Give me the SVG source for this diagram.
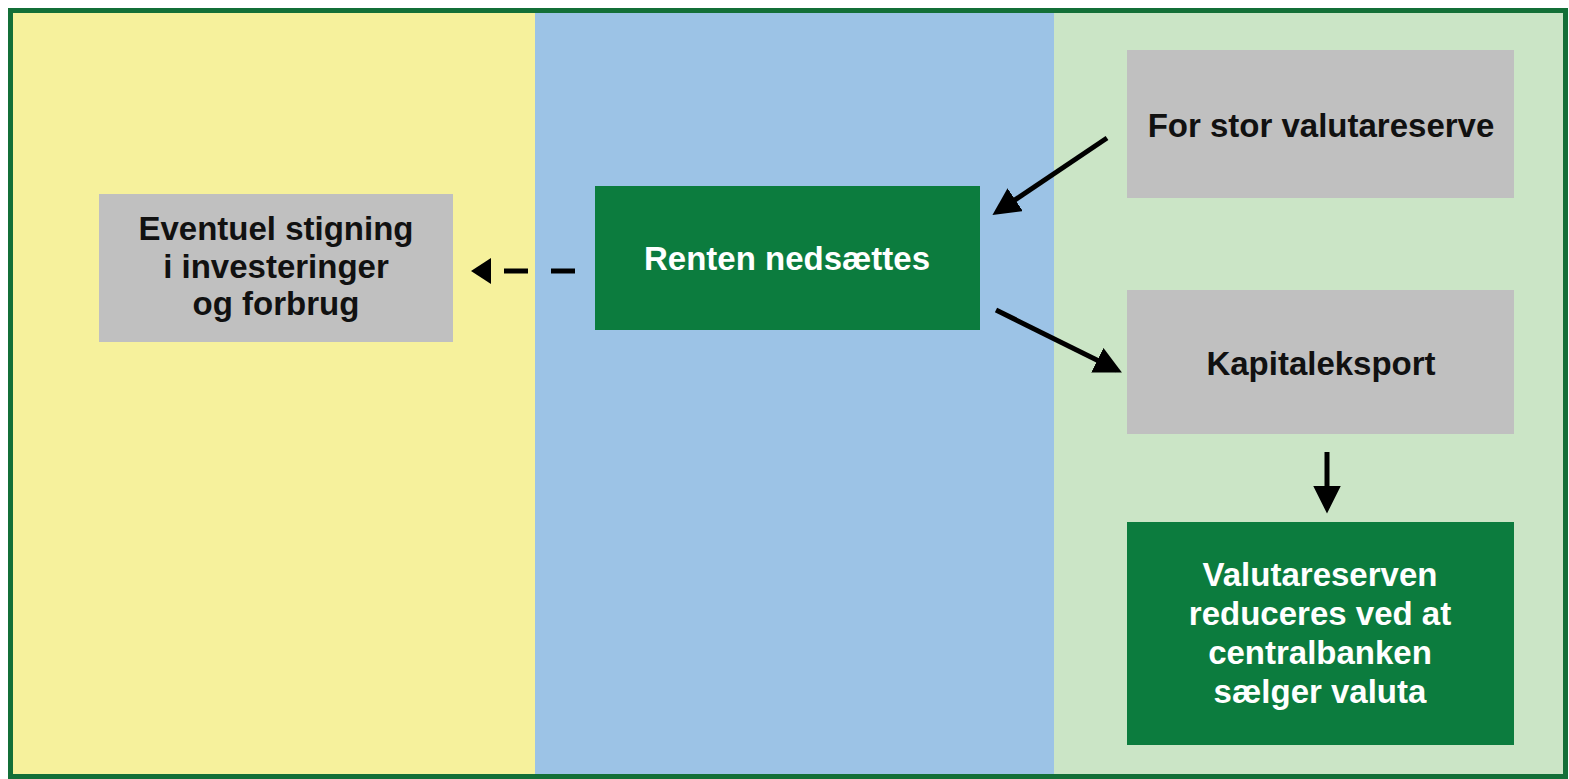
<svg xmlns="http://www.w3.org/2000/svg" width="1569" height="779" viewBox="0 0 1569 779">
<defs>
<style>
.t{font-family:"Liberation Sans",Arial,sans-serif;font-weight:bold;font-size:33px;text-anchor:middle}
.dk{fill:#111}
.wt{fill:#fff}
.gray{fill:#c0c0c0}
.grn{fill:#0c7c3e}
.ar{stroke:#000;stroke-width:5;fill:none}
</style>
<marker id="ah" viewBox="0 0 10 10" refX="8" refY="5" markerWidth="5.5" markerHeight="5.5" markerUnits="strokeWidth" orient="auto">
<path d="M0,0 L10,5 L0,10 z" fill="#000"/>
</marker>
</defs>
<rect x="0" y="0" width="1569" height="779" fill="#ffffff"/>
<g id="panels">
<rect x="11" y="11" width="524" height="765" fill="#f6f19c"/>
<rect x="535" y="11" width="519" height="765" fill="#9cc3e6"/>
<rect x="1054" y="11" width="512" height="765" fill="#cbe5c6"/>
<rect x="10.5" y="10.5" width="1555" height="766" fill="none" stroke="#136f37" stroke-width="5"/>
</g>
<g id="n-eventuel">
<rect class="gray" x="99" y="194" width="354" height="148"/>
<text class="t dk" x="276" y="240">Eventuel stigning</text>
<text class="t dk" x="276" y="278">i investeringer</text>
<text class="t dk" x="276" y="315">og forbrug</text>
</g>
<g id="n-renten">
<rect class="grn" x="595" y="186" width="385" height="144"/>
<text class="t wt" x="787" y="270">Renten nedsættes</text>
</g>
<g id="n-forstor">
<rect class="gray" x="1127" y="50" width="387" height="148"/>
<text class="t dk" x="1321" y="137">For stor valutareserve</text>
</g>
<g id="n-kapital">
<rect class="gray" x="1127" y="290" width="387" height="144"/>
<text class="t dk" x="1321" y="375">Kapitaleksport</text>
</g>
<g id="n-valuta">
<rect class="grn" x="1127" y="522" width="387" height="223"/>
<text class="t wt" x="1320" y="586">Valutareserven</text>
<text class="t wt" x="1320" y="625">reduceres ved at</text>
<text class="t wt" x="1320" y="664">centralbanken</text>
<text class="t wt" x="1320" y="703">sælger valuta</text>
</g>
<g id="connectors">
<line x1="551" y1="271" x2="575" y2="271" stroke="#000" stroke-width="5"/>
<line x1="504" y1="271" x2="528" y2="271" stroke="#000" stroke-width="5"/>
<path d="M491,258 L471,271 L491,284 z" fill="#000"/>
<line class="ar" x1="1107" y1="138" x2="997" y2="212" marker-end="url(#ah)"/>
<line class="ar" x1="996" y1="310" x2="1117" y2="370" marker-end="url(#ah)"/>
<line class="ar" x1="1327" y1="452" x2="1327" y2="508" marker-end="url(#ah)"/>
</g>
</svg>
